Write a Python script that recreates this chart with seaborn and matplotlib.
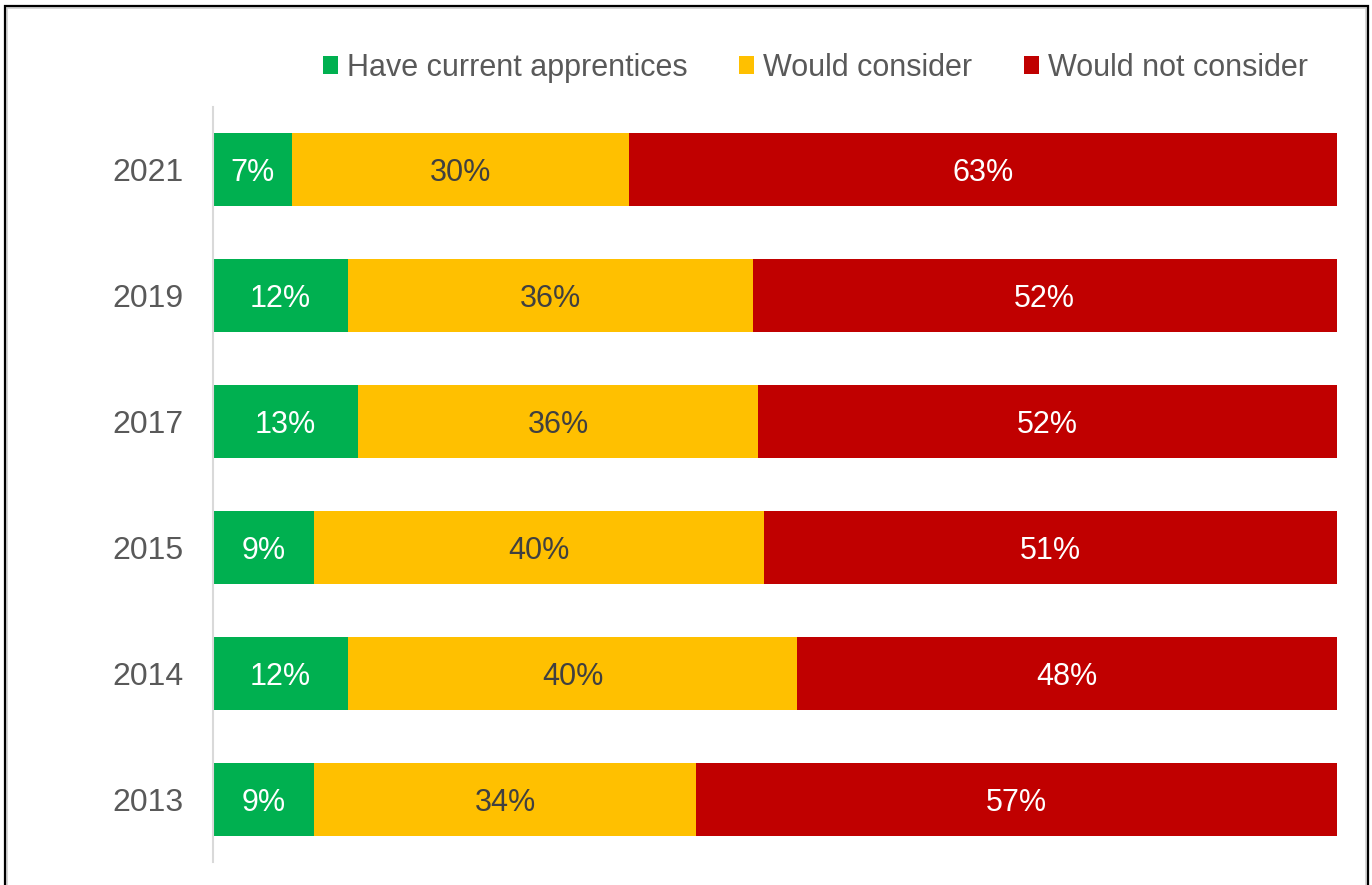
import numpy as np
import pandas as pd
import matplotlib
matplotlib.use("Agg")
import matplotlib.pyplot as plt
from matplotlib.patches import Patch, Rectangle
import seaborn as sns

years = ["2021", "2019", "2017", "2015", "2014", "2013"]
have_current = [7, 12, 13, 9, 12, 9]
would_consider = [30, 36, 36, 40, 40, 34]
would_not = [63, 52, 52, 51, 48, 57]

series_names = ["Have current apprentices", "Would consider", "Would not consider"]
series_colors = ["#00B050", "#FFC000", "#C00000"]
label_colors = ["white", "#404040", "white"]

sns.set_theme(style="white")
plt.rcParams["font.family"] = ["Liberation Sans", "DejaVu Sans"]
text_gray = "#595959"

raw = np.array([have_current, would_consider, would_not], dtype=float)
shares = raw / raw.sum(axis=0) * 100  # each row drawn as a 100% bar
cum = np.cumsum(shares, axis=0)

df = pd.DataFrame({"year": years})
for i, name in enumerate(series_names):
    df[name] = cum[i]

fig = plt.figure(figsize=(13.72, 8.85), dpi=100)
ax = fig.add_axes([213 / 1372, 1 - 862 / 885, (1337 - 213) / 1372, (862 - 107) / 885])

# draw cumulative totals back to front so each segment shows its own share
for i in reversed(range(3)):
    sns.barplot(data=df, x=series_names[i], y="year", order=years, orient="y",
                color=series_colors[i], saturation=1, width=0.58,
                linewidth=0, ax=ax)

ax.set_xlim(0, 100)
ax.set_ylim(5.5, -0.5)
ax.set_xlabel("")
ax.set_ylabel("")
ax.set_xticks([])
ax.tick_params(axis="y", length=0, pad=21, labelsize=23, labelcolor=text_gray)
for s in ["top", "right", "bottom"]:
    ax.spines[s].set_visible(False)
ax.spines["left"].set_color("#D9D9D9")
ax.spines["left"].set_linewidth(1.5)

# segment labels
for i in range(3):
    starts = cum[i] - shares[i]
    for j, yr in enumerate(years):
        ax.text(starts[j] + shares[i][j] / 2, j, f"{int(raw[i][j])}%",
                ha="center", va="center_baseline", fontsize=22,
                color=label_colors[i])

handles = [Patch(facecolor=c, edgecolor="none", label=n)
           for n, c in zip(series_names, series_colors)]
fig.legend(handles=handles, loc="center", bbox_to_anchor=(0.5944, 0.9235),
           ncol=3, frameon=False, fontsize=22, labelcolor=text_gray,
           handlelength=0.5, handleheight=0.5, handletextpad=0.3,
           columnspacing=1.67, borderaxespad=0)

# outer frame
fig.add_artist(Rectangle((7 / 1372, -0.02), 1359 / 1372, 1.02 - 8 / 885,
                         transform=fig.transFigure, fill=False,
                         edgecolor="#D0D0D0", linewidth=1.2))
fig.add_artist(Rectangle((5 / 1372, -0.02), 1363 / 1372, 1.02 - 6 / 885,
                         transform=fig.transFigure, fill=False,
                         edgecolor="black", linewidth=1.6))

fig.savefig("out.png", dpi=100, facecolor="white")
